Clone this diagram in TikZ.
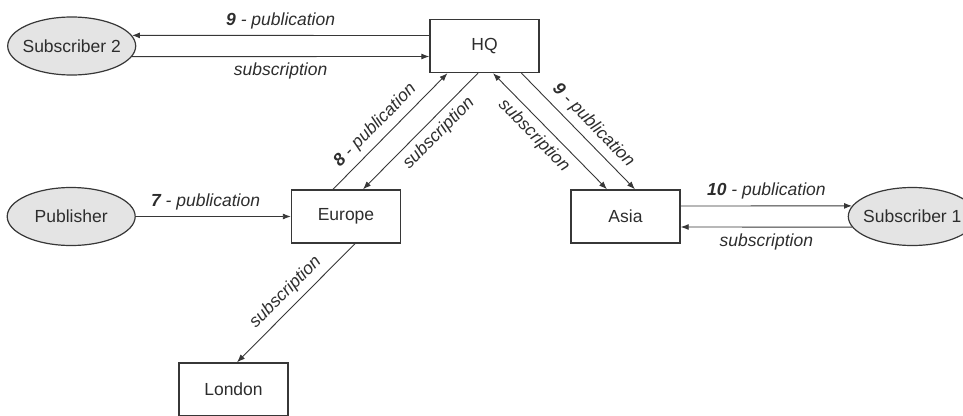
\documentclass[tikz,border=0pt]{standalone}
\usepackage{fontspec}
\setmainfont{Liberation Sans}
\usetikzlibrary{arrows.meta,shapes.geometric,positioning}

\begin{document}
\begin{tikzpicture}[
  x=1pt, y=-1pt,
  font=\fontsize{17.5}{20}\selectfont,
  >={Latex[length=8pt, width=6pt]},
  site/.style={draw=cline, line width=1.4pt, minimum width=109pt, minimum height=53pt, inner sep=0pt, text=ctext},
  client/.style={ellipse, draw=cline, line width=1.2pt, fill=cfill, minimum width=128pt, minimum height=58pt, inner xsep=-10pt, inner ysep=0pt, text=ctext},
  flow/.style={draw=cline, line width=0.9pt},
  lbl/.style={font=\fontsize{17.5}{20}\selectfont\itshape, text=ctext, inner sep=6pt}
]

\definecolor{cline}{RGB}{55,55,55}
\definecolor{ctext}{RGB}{45,45,45}
\definecolor{cfill}{RGB}{228,228,228}

\useasboundingbox (0,0) rectangle (963,415);

\node[site] (hq) at (484.5,46) {HQ};
\node[site] (eur) at (346,216.5) {Europe};
\node[site] (asia) at (625.5,216.5) {Asia};
\node[site] (lon) at (233.5,389.5) {London};
\node[client, left=293pt of hq] (sub2) {Subscriber 2};
\node[client, left=155pt of eur] (pub) {Publisher};
\node[client, right=167pt of asia] (sub1) {Subscriber 1};

\draw[flow, ->] ([yshift=10.5pt]hq.west) -- node[lbl, above] {\textbf{9} - publication} (sub2.10);
\draw[flow, ->] (sub2.-10) -- node[lbl, below] {subscription} ([yshift=-10.5pt]hq.west);
\draw[flow, ->] (pub) -- node[lbl, above, pos=0.45] {\textbf{7} - publication} (eur);
\draw[flow, ->] ([xshift=-13pt]eur.north) -- node[lbl, above, sloped, pos=0.46] {\textbf{8} - publication} ([xshift=-37pt]hq.south);
\draw[flow, ->] ([xshift=-6.5pt]hq.south) -- node[lbl, below, sloped, pos=0.43] {subscription} ([xshift=17pt]eur.north);
\draw[flow, <->] ([xshift=8.5pt]hq.south) -- node[lbl, below, sloped, pos=0.45] {subscription} ([xshift=-18.5pt]asia.north);
\draw[flow, ->] ([xshift=37pt]hq.south) -- node[lbl, above, sloped, pos=0.54] {\textbf{9} - publication} ([xshift=9.5pt]asia.north);
\draw[flow, ->] ([yshift=10.5pt]asia.east) -- node[lbl, above] {\textbf{10} - publication} (sub1.170);
\draw[flow, ->] (sub1.190) -- node[lbl, below] {subscription} ([yshift=-10.5pt]asia.east);
\draw[flow, ->] ([xshift=9pt]eur.south) -- node[lbl, above, sloped] {subscription} ([xshift=3.5pt]lon.north);

\end{tikzpicture}
\end{document}
